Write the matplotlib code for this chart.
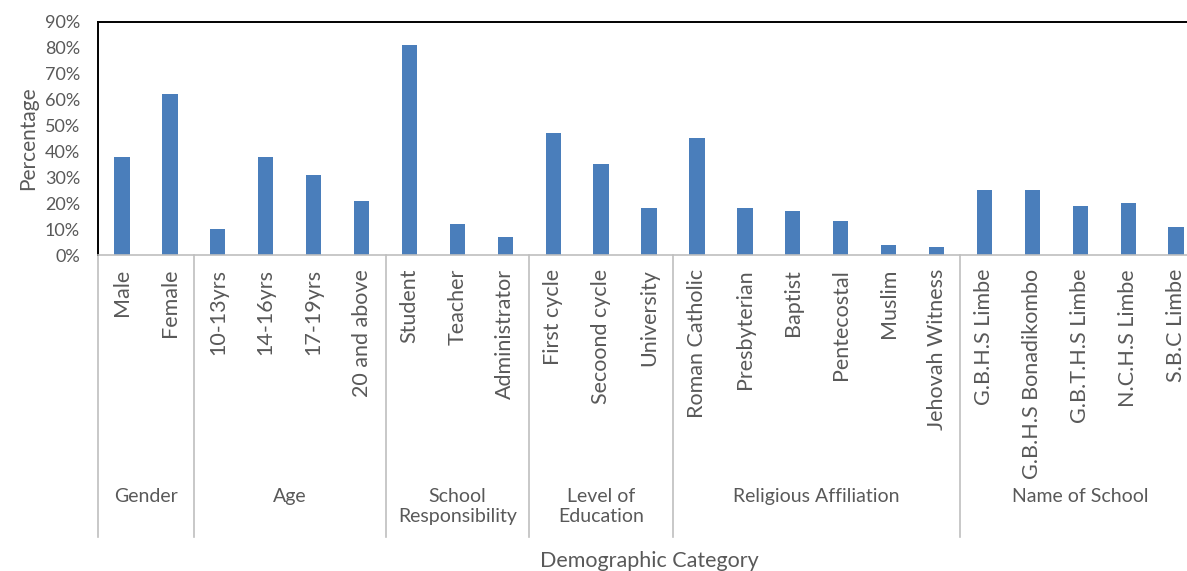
import matplotlib
matplotlib.use('Agg')
import matplotlib.pyplot as plt
import matplotlib.transforms as mtransforms
from matplotlib.ticker import PercentFormatter

# survey breakdown, percent of respondents in each demographic group
groups = ['Gender', 'Age', 'School\nResponsibility', 'Level of\nEducation',
          'Religious Affiliation', 'Name of School']
categories = [
    ['Male', 'Female'],
    ['10-13yrs', '14-16yrs', '17-19yrs', '20 and above'],
    ['Student', 'Teacher', 'Administrator'],
    ['First cycle', 'Secoond cycle', 'University'],
    ['Roman Catholic', 'Presbyterian', 'Baptist', 'Pentecostal', 'Muslim',
     'Jehovah Witness'],
    ['G.B.H.S Limbe', 'G.B.H.S Bonadikombo', 'G.B.T.H.S Limbe', 'N.C.H.S Limbe',
     'S.B.C Limbe'],
]
percentages = [
    [38, 62],
    [10, 38, 31, 21],
    [81, 12, 7],
    [47, 35, 18],
    [45, 18, 17, 13, 4, 3],
    [25, 25, 19, 20, 11],
]

plt.rcParams['font.family'] = ['Lato', 'DejaVu Sans']
grey = '#595959'
bar_color = '#4a7ebb'

labels = [c for grp in categories for c in grp]
values = [v for grp in percentages for v in grp]
x = list(range(len(labels)))

fig = plt.figure(figsize=(11.87, 5.71), dpi=100)
ax = fig.add_axes([0.0826, 0.5534, 0.9284, 0.4081])

ax.bar(x, values, width=0.32, color=bar_color, zorder=2)

ax.set_xlim(-0.5, len(labels) - 0.5)
ax.set_ylim(0, 90)
ax.set_yticks(range(0, 91, 10))
ax.yaxis.set_major_formatter(PercentFormatter(decimals=0))
ax.set_xticks(x)
ax.set_xticklabels(labels, rotation=90, va='top')
ax.tick_params(axis='x', length=0, pad=10, labelsize=15.5, labelcolor=grey)
ax.tick_params(axis='y', length=0, pad=13, labelsize=13, labelcolor=grey)

for side in ['top', 'left', 'right']:
    ax.spines[side].set_color('black')
    ax.spines[side].set_linewidth(1.4)
ax.spines['bottom'].set_color('#bfbfbf')
ax.spines['bottom'].set_linewidth(1.2)

# group separators and group names below the tick labels
trans = mtransforms.blended_transform_factory(ax.transData, ax.transAxes)
start = -0.5
for name, grp in zip(groups, categories):
    end = start + len(grp)
    ax.plot([start, start], [0, -1.21], transform=trans, color='#bfbfbf',
            lw=1.2, clip_on=False)
    ax.text((start + end) / 2, -1.0, name, transform=trans, ha='center',
            va='top', fontsize=14, color=grey, linespacing=1.2)
    start = end
ax.plot([start, start], [0, -1.21], transform=trans, color='#bfbfbf',
        lw=1.2, clip_on=False)

ax.set_ylabel('Percentage', fontsize=15, color=grey, labelpad=5)
fig.text(0.547, 0.0, 'Demographic Category', ha='center', va='bottom',
         fontsize=15.5, color=grey)

fig.savefig('out.png', dpi=100)
